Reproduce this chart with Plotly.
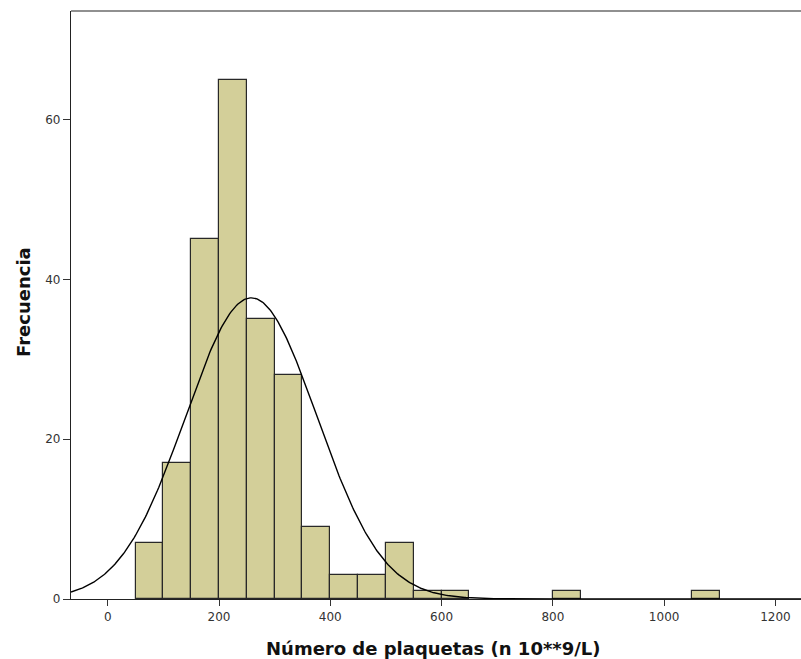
import numpy as np
import plotly.graph_objects as go

# Histogram data: bin left edges (width 50) and counts
bin_starts = [50, 100, 150, 200, 250, 300, 350, 400, 450, 500, 550, 600, 800, 1050]
counts = [7, 17, 45, 65, 35, 28, 9, 3, 3, 7, 1, 1, 1, 1]
bin_width = 50

# Normal curve statistics
curve_mean = 258
curve_sd = 118

x_ticks = [0, 200, 400, 600, 800, 1000, 1200]
y_ticks = [0, 20, 40, 60]

n_total = sum(counts)
centers = [b + bin_width / 2 for b in bin_starts]

xs = np.linspace(-66, 1246, 600)
ys = n_total * bin_width / (curve_sd * np.sqrt(2 * np.pi)) * np.exp(-0.5 * ((xs - curve_mean) / curve_sd) ** 2)

fig = go.Figure()
fig.add_trace(go.Bar(
    x=centers, y=counts, width=bin_width,
    marker=dict(color="rgb(211,207,153)", line=dict(color="rgb(40,40,40)", width=1.2)),
    showlegend=False, hoverinfo="skip",
))
fig.add_trace(go.Scatter(
    x=xs, y=ys, mode="lines",
    line=dict(color="black", width=1.4),
    showlegend=False, hoverinfo="skip",
))

fig.update_layout(
    width=801, height=659,
    margin=dict(l=71, r=0, t=11, b=60),
    plot_bgcolor="white", paper_bgcolor="white",
    bargap=0,
    xaxis=dict(
        range=[-66, 1246], tickvals=x_ticks, ticks="outside", ticklen=6,
        tickcolor="#333", tickwidth=1.2,
        showline=True, linecolor="#222", linewidth=1.2, mirror=False,
        showgrid=False, zeroline=False,
        tickfont=dict(family="DejaVu Sans", size=12, color="#333"),
    ),
    yaxis=dict(
        range=[0, 73.6], tickvals=y_ticks, ticks="outside", ticklen=7,
        tickcolor="#333", tickwidth=1.2,
        showline=True, linecolor="#222", linewidth=1.2, mirror=False,
        showgrid=False, zeroline=False,
        tickfont=dict(family="DejaVu Sans", size=12, color="#333"),
    ),
    annotations=[
        dict(text="<b>Número de plaquetas (n 10**9/L)</b>", xref="paper", yref="paper",
             x=(433 - 71) / 730, y=-(648 - 599) / 588, xanchor="center", yanchor="middle",
             showarrow=False, font=dict(family="DejaVu Sans", size=18, color="#111")),
        dict(text="<b>Frecuencia</b>", xref="paper", yref="paper",
             x=-(71 - 23) / 730, y=(599 - 302) / 588, xanchor="center", yanchor="middle",
             textangle=-90, showarrow=False,
             font=dict(family="DejaVu Sans", size=18, color="#111")),
    ],
)
# top border line
fig.add_shape(type="line", xref="paper", yref="paper", x0=0, x1=1, y0=1, y1=1,
              line=dict(color="#222", width=1.2))

fig.write_html("out.html")
